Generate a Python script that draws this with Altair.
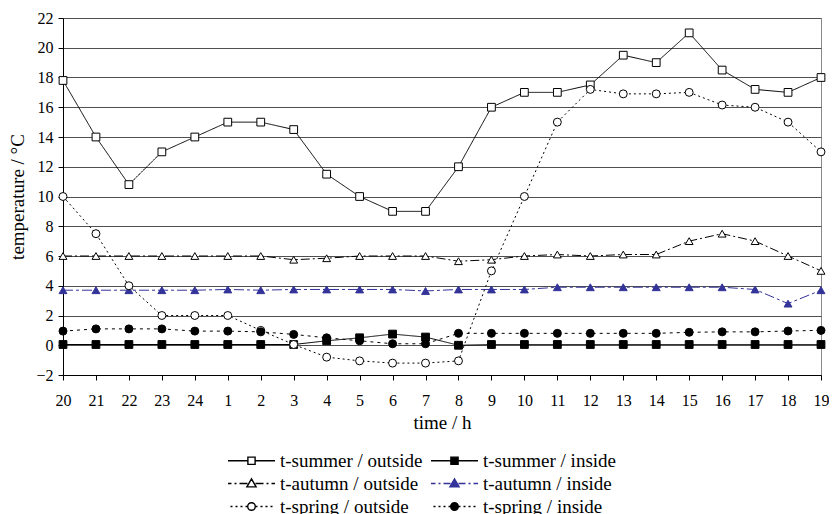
import altair as alt
import pandas as pd

hours = ["20", "21", "22", "23", "24", "1", "2", "3", "4", "5", "6", "7",
         "8", "9", "10", "11", "12", "13", "14", "15", "16", "17", "18", "19"]

series_names = ["t-summer / outside", "t-summer / inside",
                "t-autumn / outside", "t-autumn / inside",
                "t-spring / outside", "t-spring / inside"]

summer_outside = [17.8, 14.0, 10.8, 13.0, 14.0, 15.0, 15.0, 14.5, 11.5, 10.0, 9.0, 9.0,
                  12.0, 16.0, 17.0, 17.0, 17.5, 19.5, 19.0, 21.0, 18.5, 17.2, 17.0, 18.0]
summer_inside = [0.05, 0.05, 0.05, 0.05, 0.05, 0.05, 0.05, 0.05, 0.3, 0.5, 0.75, 0.55,
                 0.0, 0.05, 0.05, 0.05, 0.05, 0.05, 0.05, 0.05, 0.05, 0.05, 0.05, 0.05]
autumn_outside = [6.0, 6.0, 6.0, 6.0, 6.0, 6.0, 6.0, 5.75, 5.85, 6.0, 6.0, 6.0,
                  5.65, 5.75, 6.0, 6.1, 6.0, 6.1, 6.1, 7.0, 7.5, 7.0, 6.0, 5.0]
autumn_inside = [3.7, 3.7, 3.7, 3.7, 3.7, 3.75, 3.7, 3.75, 3.75, 3.75, 3.75, 3.65,
                 3.75, 3.75, 3.75, 3.9, 3.9, 3.9, 3.9, 3.9, 3.9, 3.75, 2.8, 3.7]
spring_outside = [10.0, 7.5, 4.0, 2.0, 2.0, 2.0, 1.0, 0.05, -0.8, -1.05, -1.2, -1.2,
                  -1.05, 5.0, 10.0, 15.0, 17.2, 16.9, 16.9, 17.0, 16.15, 16.0, 15.0, 13.0]
spring_inside = [0.95, 1.1, 1.1, 1.1, 0.95, 0.95, 0.9, 0.73, 0.5, 0.3, 0.1, 0.1,
                 0.8, 0.8, 0.8, 0.8, 0.8, 0.8, 0.8, 0.87, 0.9, 0.9, 0.96, 1.0]

series_values = [summer_outside, summer_inside, autumn_outside,
                 autumn_inside, spring_outside, spring_inside]

rows = []
for name, vals in zip(series_names, series_values):
    for h, v in zip(hours, vals):
        rows.append({"hour": h, "value": v, "series": name})
df = pd.DataFrame(rows)

FONT = "Liberation Serif"
BLUE = "#333399"
stroke_colors = ["black", "black", "black", BLUE, "black", "black"]
fill_colors = ["white", "black", "white", BLUE, "white", "black"]
shapes = ["square", "square", "triangle-up", "triangle-up", "circle", "circle"]
sizes = [60, 64, 64, 64, 58, 58]
line_widths = [1, 1, 2, 2, 1.8, 2]
dashes = [[1, 0], [1, 0], [9, 3, 2, 3], [10, 3, 3, 3], [2, 3], [3, 4]]

# ---- legend symbol paths (line + marker) -------------------------------
SYM_SIZE = 100
S = (SYM_SIZE ** 0.5) / 2.0  # px per path unit


def side(pattern, m, end):
    out = []
    x, i = m, 0
    while x < end - 0.01:
        L = pattern[i % len(pattern)]
        x2 = min(x + L, end)
        if i % 2 == 0:
            out.append((x, x2))
        x, i = x2, i + 1
    p = ""
    for a, b in out:
        p += "M%.3f,0H%.3f" % (a / S, b / S)
        p += "M%.3f,0H%.3f" % (-a / S, -b / S)
    return p


def marker(kind):
    if kind == "square":
        h = 3.6 / S
        return "M%.3f,%.3fH%.3fV%.3fH%.3fZ" % (-h, -h, h, h, -h)
    if kind == "triangle-up":
        w, t, b = 4.6 / S, 4.6 / S, 3.4 / S
        return "M0,%.3fL%.3f,%.3fL%.3f,%.3fZ" % (-t, w, b, -w, b)
    r = 3.8 / S
    return "M%.3f,0A%.3f,%.3f 0 1,1 %.3f,0A%.3f,%.3f 0 1,1 %.3f,0Z" % (r, r, r, -r, r, r, r)


leg_patterns = [[100], [100], [8, 3, 2, 3], [7, 3, 2, 3], [2, 3], [2, 3]]
leg_paths = [side(pat, 4.0, 23.5) + marker(kind) for kind, pat in zip(shapes, leg_patterns)]

legend = alt.Legend(
    orient="none", legendX=179, legendY=433, columns=2, direction="horizontal",
    title=None, labelFont=FONT, labelFontSize=19, labelColor="black",
    symbolSize=SYM_SIZE, symbolStrokeWidth=1.4, symbolOpacity=1,
    labelOffset=19, columnPadding=5, rowPadding=3,
)

x_enc = alt.X("hour:O", sort=hours, scale=alt.Scale(type="point", padding=0),
              title="time / h")
y_enc = alt.Y("value:Q", scale=alt.Scale(domain=[-2, 22], nice=False, zero=False),
              axis=alt.Axis(values=list(range(-2, 23, 2))),
              title="temperature / °C")

lines = alt.Chart(df).mark_line().encode(
    x=x_enc, y=y_enc,
    color=alt.Color("series:N", scale=alt.Scale(domain=series_names, range=stroke_colors), legend=None),
    strokeDash=alt.StrokeDash("series:N", scale=alt.Scale(domain=series_names, range=dashes), legend=None),
    strokeWidth=alt.StrokeWidth("series:N", scale=alt.Scale(domain=series_names, range=line_widths), legend=None),
)

points = alt.Chart(df).mark_point(opacity=1, strokeWidth=1).encode(
    x=x_enc, y=y_enc,
    shape=alt.Shape("series:N", scale=alt.Scale(domain=series_names, range=shapes), legend=None),
    fill=alt.Fill("series:N", scale=alt.Scale(domain=series_names, range=fill_colors), legend=None),
    stroke=alt.Stroke("series:N", scale=alt.Scale(domain=series_names, range=stroke_colors), legend=None),
    size=alt.Size("series:N", scale=alt.Scale(domain=series_names, range=sizes), legend=None),
)

# legend-only layer: no marks drawn, legend built from the explicit scale domains
legend_layer = alt.Chart(df).transform_filter("false").mark_point(opacity=1).encode(
    x=x_enc, y=y_enc,
    shape=alt.Shape("series:N", scale=alt.Scale(domain=series_names, range=leg_paths), legend=legend),
    fill=alt.Fill("series:N", scale=alt.Scale(domain=series_names, range=fill_colors), legend=legend),
    stroke=alt.Stroke("series:N", scale=alt.Scale(domain=series_names, range=stroke_colors), legend=legend),
)

chart = alt.layer(lines, points, legend_layer).resolve_scale(
    color="independent", stroke="independent", shape="independent", fill="independent"
).properties(
    width=758, height=357,
    padding={"left": 0, "top": 2, "right": 0, "bottom": 0},
).configure_view(
    stroke="#888888", strokeWidth=1
).configure_axis(
    labelFont=FONT, titleFont=FONT, labelFontSize=16, titleFontSize=19,
    titleFontWeight="normal", labelColor="black", titleColor="black",
    domainColor="black", tickColor="black", tickSize=5, gridColor="#505050",
    gridWidth=1,
).configure_axisX(
    grid=False, labelAngle=0, labelPadding=12, titlePadding=5,
).configure_axisY(
    grid=True, labelPadding=5, titlePadding=8,
)

chart.save("out.html", embed_options={"renderer": "svg", "actions": False})
